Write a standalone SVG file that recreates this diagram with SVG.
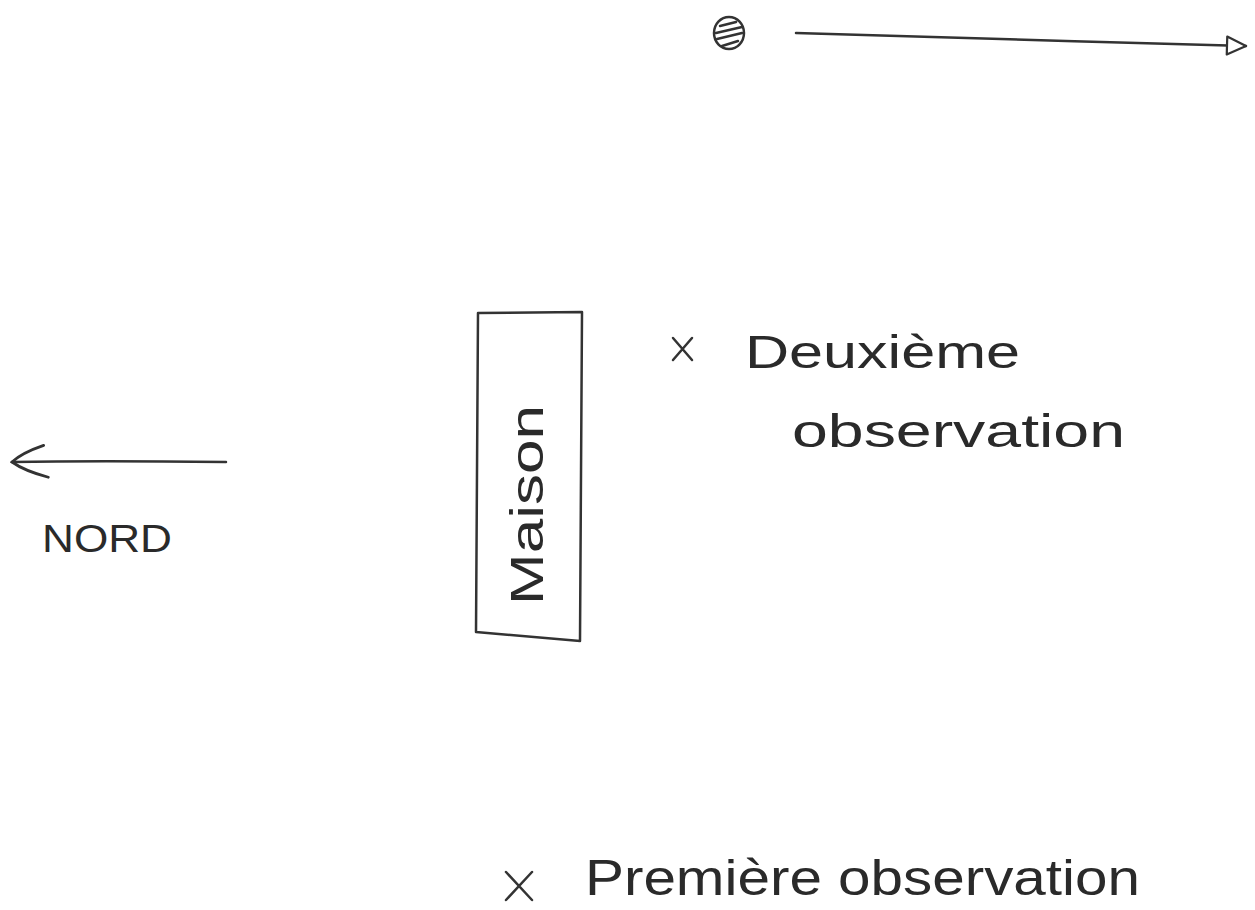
<svg xmlns="http://www.w3.org/2000/svg" width="1255" height="910" viewBox="0 0 1255 910">
<style>
.ink{fill:none;stroke:#333;stroke-width:2.5;stroke-linecap:round;stroke-linejoin:round}
.hand{font-family:"Liberation Sans",Arial,sans-serif;fill:#2a2a2a}
</style>
<defs>
<marker id="open" viewBox="0 0 24 24" refX="22" refY="12" markerWidth="24" markerHeight="24" markerUnits="userSpaceOnUse" orient="auto">
<path d="M3,3 L22,12 L3,21 Z" fill="#fff" stroke="#333" stroke-width="2.2" stroke-linejoin="round"/>
</marker>
<marker id="chev" viewBox="0 0 44 40" refX="40" refY="20" markerWidth="44" markerHeight="40" markerUnits="userSpaceOnUse" orient="auto">
<path d="M4,4 Q28,11 40,20 Q30,29 8,36" fill="none" stroke="#333" stroke-width="2.8" stroke-linecap="round"/>
</marker>
</defs>
<rect width="1255" height="910" fill="#fff"/>
<g id="sun">
<ellipse cx="729" cy="33" rx="15" ry="16" fill="#fff" stroke="#333" stroke-width="2.5"/>
<path class="ink" d="M720,26 L736,22 M716,33 L742,27 M717,39 L742,33 M722,46 L738,41" stroke-width="2"/>
</g>
<g id="connectors">
<path class="ink" d="M796,33 C900,36 1100,42 1246,46" marker-end="url(#open)" stroke-width="2"/>
<path class="ink" d="M226,462 C150,461 60,461 12,462" marker-end="url(#chev)"/>
</g>
<g id="house">
<path class="ink" d="M478,313 L582,312 L580,641 L476,632 Z" stroke-width="2.2"/>
<text class="hand" font-size="46" transform="translate(543,605) rotate(-90)" textLength="200" lengthAdjust="spacingAndGlyphs">Maison</text>
</g>
<g id="nord">
<text class="hand" x="42" y="552" font-size="38" textLength="130" lengthAdjust="spacingAndGlyphs">NORD</text>
</g>
<g id="obs2">
<path class="ink" d="M673,338 L692,360 M692,338 L673,360"/>
<text class="hand" x="745" y="368" font-size="46" textLength="275" lengthAdjust="spacingAndGlyphs">Deuxième</text>
<text class="hand" x="792" y="447" font-size="46" textLength="333" lengthAdjust="spacingAndGlyphs">observation</text>
</g>
<g id="obs1">
<path class="ink" d="M506,872 L532,900 M532,872 L506,900"/>
<text class="hand" x="585" y="895" font-size="50" textLength="555" lengthAdjust="spacingAndGlyphs">Première observation</text>
</g>
</svg>
